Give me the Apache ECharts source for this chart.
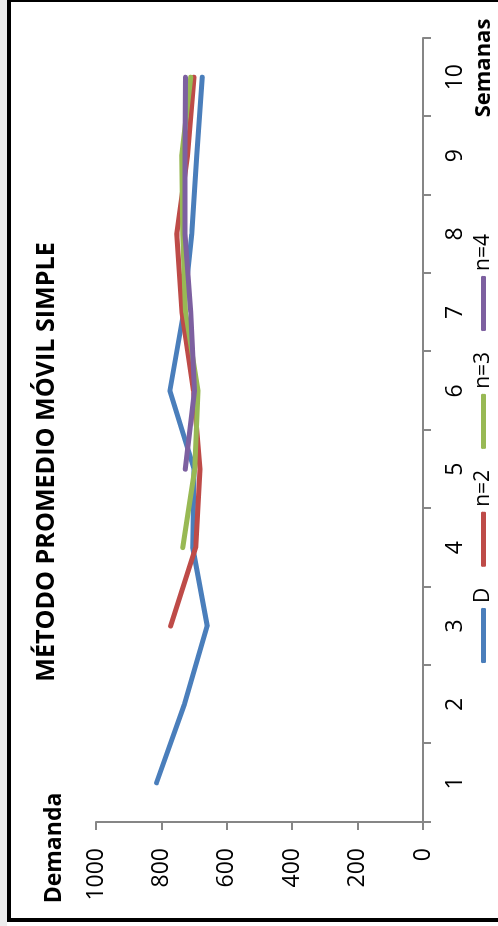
<!DOCTYPE html>
<html>
<head>
<meta charset="utf-8">
<script src="https://cdn.jsdelivr.net/npm/echarts@6/dist/echarts.min.js"></script>
<style>
  html, body { margin: 0; padding: 0; width: 498px; height: 926px; overflow: hidden; background: #ffffff; }
  #strip { position: absolute; left: 0; top: 0; width: 7px; height: 926px; background: #ededed; }
  #frame { position: absolute; left: 7px; top: -2px; width: 500px; height: 924px; border-left: 4px solid #000; border-top: 4px solid #000; border-bottom: 4px solid #000; box-sizing: border-box; }
  #wrap { position: absolute; left: 0; top: 0; width: 926px; height: 498px; transform-origin: 0 0; transform: translateY(926px) rotate(-90deg); }
</style>
</head>
<body>
<div id="strip"></div>
<div id="frame"></div>
<div id="wrap"></div>
<script>
const semanas = ['1','2','3','4','5','6','7','8','9','10'];
const serieD  = [815, 730, 660, 704, 700, 774, 732, 707, 692, 675];
const serieN2 = [null, null, 772, 695, 682, 702, 737, 753, 720, 700];
const serieN3 = [null, null, null, 735, 698, 688, 726, 735, 738, 710];
const serieN4 = [null, null, null, null, 727, 699, 710, 728, 728, 726];
const nombres = ['D', 'n=2', 'n=3', 'n=4'];
const colores = ['#4a7ebb', '#be4b48', '#98b954', '#7d60a0'];
const titulo = 'MÉTODO PROMEDIO MÓVIL SIMPLE';

const FONT = '"Open Sans", "Noto Sans", sans-serif';

// size the title font so the text spans the same length as in the reference
const cv = document.createElement('canvas').getContext('2d');
cv.font = 'bold 24px ' + FONT;
const tw = cv.measureText(titulo).width;
const titleSize = Math.round(24 * 439 / tw * 10) / 10;

const chart = echarts.init(document.getElementById('wrap'), null, { renderer: 'canvas' });

function mkSeries(name, data, color) {
  return {
    name: name, type: 'line', data: data, symbol: 'none', smooth: false,
    connectNulls: false,
    lineStyle: { color: color, width: 5, cap: 'round', join: 'round' },
    itemStyle: { color: color }
  };
}

chart.setOption({
  animation: false,
  backgroundColor: 'transparent',
  grid: { left: 104, right: 38, top: 96, bottom: 75 },
  legend: {
    data: nombres, left: 258, top: 468,
    itemWidth: 55, itemHeight: 5, itemGap: 21, icon: 'roundRect',
    textStyle: { fontFamily: FONT, fontSize: 21, color: '#000' }
  },
  xAxis: {
    type: 'category', data: semanas, boundaryGap: true,
    axisLine: { show: true, lineStyle: { color: '#868686', width: 2 } },
    axisTick: { show: true, length: 8, alignWithLabel: false, lineStyle: { color: '#868686', width: 2 } },
    axisLabel: { fontFamily: FONT, fontSize: 23, color: '#000', margin: 21 },
    splitLine: { show: false }
  },
  yAxis: {
    type: 'value', min: 0, max: 1000, interval: 200,
    axisLine: { show: true, lineStyle: { color: '#868686', width: 2 } },
    axisTick: { show: true, length: 8, lineStyle: { color: '#868686', width: 2 } },
    axisLabel: { fontFamily: FONT, fontSize: 23, color: '#000', margin: 26, formatter: function (v) { return String(v); } },
    splitLine: { show: false }
  },
  graphic: [
    { type: 'text', x: 464, y: 47, style: { text: titulo, font: 'bold ' + titleSize + 'px ' + FONT, fill: '#000', align: 'center', verticalAlign: 'middle' } },
    { type: 'text', x: 858, y: 484, style: { text: 'Semanas', font: 'bold 22px ' + FONT, fill: '#000', align: 'center', verticalAlign: 'middle' } },
    { type: 'text', x: 78, y: 54, style: { text: 'Demanda', font: 'bold 23px ' + FONT, fill: '#000', align: 'center', verticalAlign: 'middle' } }
  ],
  series: [
    mkSeries(nombres[0], serieD, colores[0]),
    mkSeries(nombres[1], serieN2, colores[1]),
    mkSeries(nombres[2], serieN3, colores[2]),
    mkSeries(nombres[3], serieN4, colores[3])
  ]
});
</script>
</body>
</html>
